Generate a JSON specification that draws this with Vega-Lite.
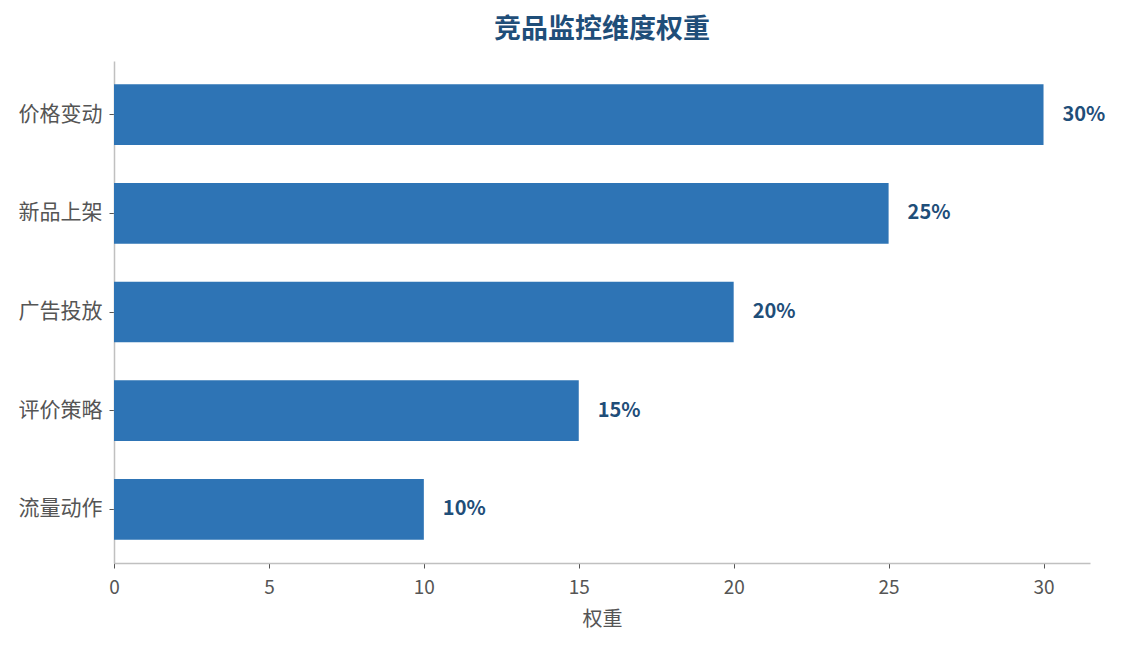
{
  "$schema": "https://vega.github.io/schema/vega-lite/v6.json",
  "width": 976,
  "height": 502,
  "autosize": {"type": "none"},
  "padding": {"left": 114, "top": 61, "right": 32, "bottom": 82},
  "background": "white",
  "config": {
    "font": "Noto Sans CJK SC",
    "view": {"stroke": null}
  },
  "title": {
    "text": "竞品监控维度权重",
    "fontSize": 27,
    "fontWeight": "bold",
    "color": "#1f4e79",
    "anchor": "middle",
    "offset": 17
  },
  "data": {
    "values": [
      {"dimension": "价格变动", "weight": 30, "label": "30%"},
      {"dimension": "新品上架", "weight": 25, "label": "25%"},
      {"dimension": "广告投放", "weight": 20, "label": "20%"},
      {"dimension": "评价策略", "weight": 15, "label": "15%"},
      {"dimension": "流量动作", "weight": 10, "label": "10%"}
    ]
  },
  "encoding": {
    "y": {
      "field": "dimension",
      "type": "nominal",
      "sort": null,
      "scale": {"paddingInner": 0.385, "paddingOuter": 0.235},
      "axis": {
        "title": null,
        "domainColor": "#c0c0c0",
        "domainWidth": 1.5,
        "tickColor": "#555555",
        "tickSize": 5,
        "labelFontSize": 21,
        "labelColor": "#555555",
        "labelPadding": 7,
        "grid": false
      }
    },
    "x": {
      "field": "weight",
      "type": "quantitative",
      "scale": {"domain": [0, 31.5], "nice": false},
      "axis": {
        "title": "权重",
        "titleFontSize": 20,
        "titleFontWeight": "normal",
        "titleColor": "#555555",
        "titlePadding": 12,
        "values": [0, 5, 10, 15, 20, 25, 30],
        "labelFlush": false,
        "domainColor": "#c0c0c0",
        "domainWidth": 1.5,
        "tickColor": "#555555",
        "tickSize": 5,
        "labelFontSize": 19,
        "labelColor": "#555555",
        "labelPadding": 10,
        "grid": false
      }
    }
  },
  "layer": [
    {"mark": {"type": "bar", "color": "#2e74b5"}},
    {
      "mark": {
        "type": "text",
        "align": "left",
        "baseline": "middle",
        "dx": 19,
        "fontSize": 20,
        "fontWeight": "bold",
        "color": "#1f4e79"
      },
      "encoding": {"text": {"field": "label"}}
    }
  ]
}
